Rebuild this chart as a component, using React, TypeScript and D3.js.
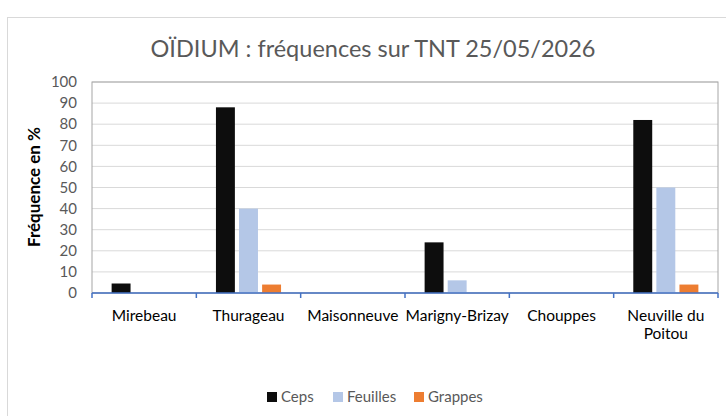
import React from 'react';
import * as d3 from 'd3';

// données
const sites = ['Mirebeau', 'Thurageau', 'Maisonneuve', 'Marigny-Brizay', 'Chouppes', 'Neuville du Poitou'];
const seriesNames = ['Ceps', 'Feuilles', 'Grappes'];
const ceps = [4.5, 88, 0, 24, 0, 82];
const feuilles = [0, 40, 0, 6, 0, 50];
const grappes = [0, 4, 0, 0, 0, 4];
const yTicks = [0, 10, 20, 30, 40, 50, 60, 70, 80, 90, 100];
const colors = ['#0d0d0d', '#b4c7e7', '#ed7d31'];

const W = 726;
const H = 416;
const plot = { left: 92, right: 718, top: 82, bottom: 293 };
const font = 'Lato, "Open Sans", sans-serif';

const App = () => {
  const values = [ceps, feuilles, grappes];

  const x = d3.scaleBand().domain(sites).range([plot.left, plot.right]);
  const xs = d3.scaleBand().domain(seriesNames).range([0, x.bandwidth()]).paddingInner(0.18).paddingOuter(0.85);
  const y = d3.scaleLinear().domain([0, 100]).range([plot.bottom, plot.top]);

  const legendX = d3.scaleOrdinal<string, number>().domain(seriesNames).range([267, 333, 414]);

  return (
    <svg width={W} height={H} style={{ position: 'absolute', left: 0, top: 0, background: '#fff' }}>
      {/* cadre du graphique */}
      <rect x={7.5} y={17.5} width={740} height={420} fill="#fff" stroke="#d9d9d9" />

      <text x={373} y={57} textAnchor="middle" fontFamily={font} fontSize={23.5} fill="#595959">
        OÏDIUM : fréquences sur TNT 25/05/2026
      </text>

      {/* grille */}
      {yTicks.map(t => (
        <g key={t}>
          <line x1={plot.left} x2={plot.right} y1={y(t)} y2={y(t)} stroke="#d9d9d9" strokeWidth={1} />
          <text x={77} y={y(t)} dy="0.35em" textAnchor="end" fontFamily={font} fontSize={15} fill="#595959">
            {t}
          </text>
        </g>
      ))}
      <rect x={plot.left} y={plot.top} width={plot.right - plot.left} height={plot.bottom - plot.top}
        fill="none" stroke="#a6a6a6" strokeWidth={1} />

      {/* barres */}
      {seriesNames.map((s, si) =>
        sites.map((site, i) => {
          const v = values[si][i];
          if (!v) return null;
          return (
            <rect key={s + site}
              x={(x(site) as number) + (xs(s) as number)}
              y={y(v)}
              width={xs.bandwidth()}
              height={y(0) - y(v)}
              fill={colors[si]} />
          );
        })
      )}

      {/* axe des abscisses */}
      <line x1={plot.left} x2={plot.right} y1={plot.bottom} y2={plot.bottom} stroke="#4472c4" strokeWidth={1.5} />
      {sites.map(site => (
        <line key={'t' + site} x1={x(site)} x2={x(site)} y1={plot.bottom} y2={plot.bottom + 5} stroke="#4472c4" strokeWidth={1.5} />
      ))}
      <line x1={plot.right} x2={plot.right} y1={plot.bottom} y2={plot.bottom + 5} stroke="#4472c4" strokeWidth={1.5} />

      {sites.map(site => {
        const cx = (x(site) as number) + x.bandwidth() / 2;
        const lines = site === 'Neuville du Poitou' ? ['Neuville du', 'Poitou'] : [site];
        return (
          <text key={'l' + site} x={cx} y={321} textAnchor="middle" fontFamily={font} fontSize={15.5} fill="#000">
            {lines.map((l, k) => (
              <tspan key={k} x={cx} dy={k === 0 ? 0 : 18}>{l}</tspan>
            ))}
          </text>
        );
      })}

      <text transform="translate(40,187) rotate(-90)" textAnchor="middle" fontFamily={font} fontSize={17}
        fontWeight="bold" fill="#000">
        Fréquence en %
      </text>

      {/* légende */}
      {seriesNames.map((s, si) => (
        <g key={'lg' + s}>
          <rect x={legendX(s)} y={392} width={10} height={10} fill={colors[si]} />
          <text x={legendX(s) + 14} y={397} dy="0.35em" fontFamily={font} fontSize={15} fill="#595959">{s}</text>
        </g>
      ))}
    </svg>
  );
};

export default App;
